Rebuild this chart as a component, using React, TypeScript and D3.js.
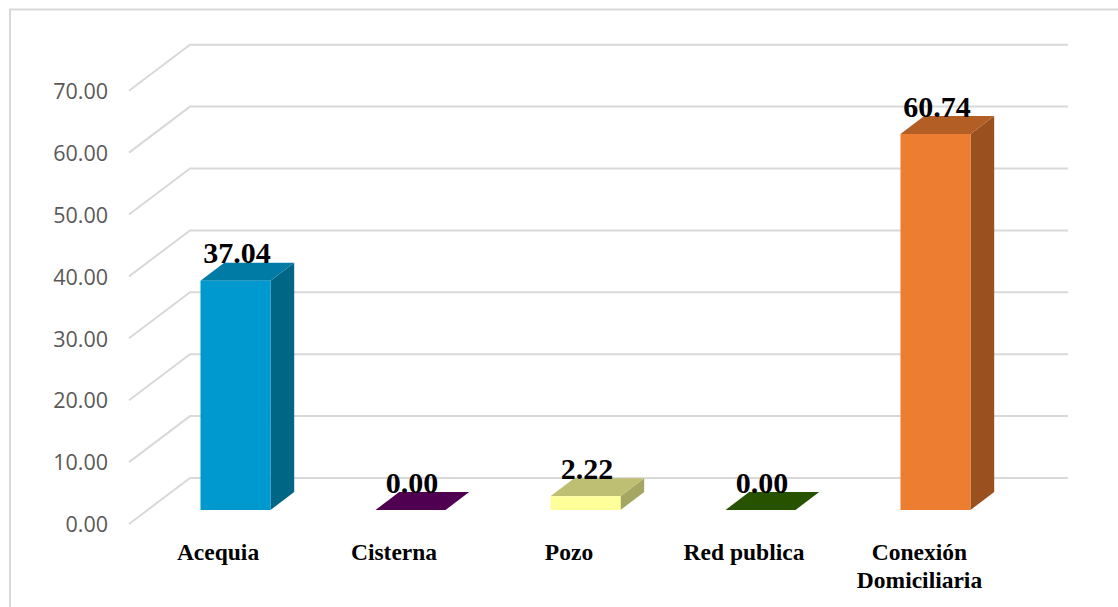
import React from "react";
import * as d3 from "d3";

const categories = ["Acequia", "Cisterna", "Pozo", "Red publica", "Conexión Domiciliaria"];
const values = [37.04, 0.0, 2.22, 0.0, 60.74];
const yTicks = [0, 10, 20, 30, 40, 50, 60, 70];
const frontColors = ["#0099CF", "#500050", "#FFFF99", "#275200", "#ED7D31"];
const topColors = ["#007BA6", "#500050", "#BFBF73", "#275200", "#B25E25"];
const sideColors = ["#006685", "#500050", "#A6A663", "#275200", "#9A511F"];
const categoryLines = [["Acequia"], ["Cisterna"], ["Pozo"], ["Red publica"], ["Conexión", "Domiciliaria"]];
const labelCenters = [218, 394, 569, 744, 919.5];

const WIDTH = 1118;
const HEIGHT = 607;
const SERIF = "'Liberation Serif', 'Times New Roman', serif";
const SANS = "'Open Sans', 'Liberation Sans', Arial, sans-serif";

// Oblique offset of the bar depth and of the back wall
const BAR_DX = 23.7;
const BAR_DY = 18;
const WALL_DX = 61;
const WALL_DY = 46;

export default function App() {
  // Bar fronts stand on the floor line; the wall grid sits behind them
  const y = d3.scaleLinear().domain([0, 70]).range([510, 76.7]);
  const x = d3.scaleBand<string>().domain(categories).range([148, 1023]).paddingInner(0.6).paddingOuter(0.3);
  const wallFrontY = (t: number) => y(t) + 14;
  const wallLeft = 129;
  const wallRight = 1068;

  return (
    <svg
      width={WIDTH}
      height={HEIGHT}
      viewBox={`0 0 ${WIDTH} ${HEIGHT}`}
      style={{ position: "fixed", left: 0, top: 0, background: "#fff" }}
    >
      {/* chart frame: top and left edges remain inside the view */}
      <path d={`M10 ${HEIGHT} V9.5 H${WIDTH}`} fill="none" stroke="#D9D9D9" strokeWidth={2} />

      {/* back wall gridlines with their oblique floor returns */}
      {yTicks.map((t) => {
        const yf = wallFrontY(t);
        return (
          <path
            key={t}
            d={`M${wallLeft} ${yf} L${wallLeft + WALL_DX} ${yf - WALL_DY} H${wallRight}`}
            fill="none"
            stroke="#D9D9D9"
            strokeWidth={2}
          />
        );
      })}

      {yTicks.map((t) => (
        <text
          key={t}
          x={108}
          y={wallFrontY(t) + 2.5}
          textAnchor="end"
          dominantBaseline="middle"
          fontFamily={SANS}
          fontSize={21.5}
          fill="#595959"
        >
          {d3.format(".2f")(t)}
        </text>
      ))}

      {/* extruded bars: side, top, then front face */}
      {categories.map((c, i) => {
        const x0 = x(c) as number;
        const x1 = x0 + x.bandwidth();
        const yTop = y(values[i]);
        const yBase = y(0);
        return (
          <g key={c}>
            <path
              d={`M${x1} ${yBase} L${x1 + BAR_DX} ${yBase - BAR_DY} V${yTop - BAR_DY} L${x1} ${yTop} Z`}
              fill={sideColors[i]}
            />
            <path
              d={`M${x0} ${yTop} L${x0 + BAR_DX} ${yTop - BAR_DY} H${x1 + BAR_DX} L${x1} ${yTop} Z`}
              fill={topColors[i]}
            />
            <rect x={x0} y={yTop} width={x.bandwidth()} height={yBase - yTop} fill={frontColors[i]} />
          </g>
        );
      })}

      {/* value labels */}
      {categories.map((c, i) => (
        <text
          key={c}
          x={(x(c) as number) + x.bandwidth() / 2 + 1.5}
          y={y(values[i]) - 17.5}
          textAnchor="middle"
          fontFamily={SERIF}
          fontWeight="bold"
          fontSize={30}
          fill="#000"
        >
          {d3.format(".2f")(values[i])}
        </text>
      ))}

      {/* category labels */}
      {categoryLines.map((lines, i) => (
        <text
          key={categories[i]}
          textAnchor="middle"
          fontFamily={SERIF}
          fontWeight="bold"
          fontSize={23.5}
          fill="#000"
        >
          {lines.map((line, j) => (
            <tspan key={line} x={labelCenters[i]} y={560 + j * 28}>
              {line}
            </tspan>
          ))}
        </text>
      ))}
    </svg>
  );
}
